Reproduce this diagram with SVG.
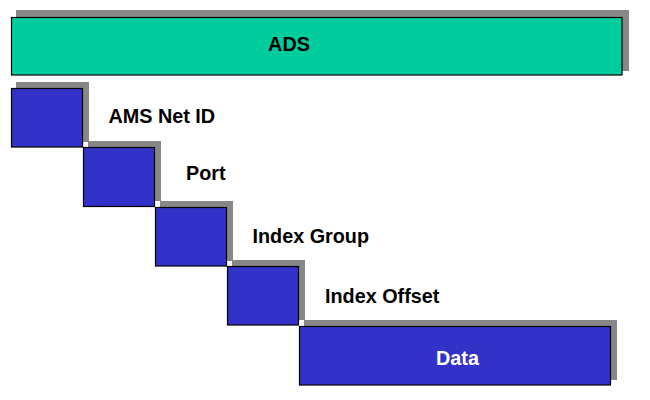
<svg xmlns="http://www.w3.org/2000/svg" width="650" height="400" viewBox="0 0 650 400">
<style>
.sh{fill:#878787}
.ads{fill:#00CC9E;stroke:#000;stroke-width:1.2}
.blk{fill:#3232C8;stroke:#000;stroke-width:1.2}
.lbl{font-family:"Liberation Sans",Arial,sans-serif;font-weight:bold;font-size:19.8px;fill:#000}
.wl{font-family:"Liberation Sans",Arial,sans-serif;font-weight:bold;font-size:19.8px;fill:#fff}
</style>
<rect width="650" height="400" fill="#fff"/>
<g id="ads">
<rect class="sh" x="16" y="10" width="613" height="61"/>
<rect class="ads" x="11.5" y="17.5" width="610.5" height="57.5"/>
<text class="lbl" x="289" y="50.5" text-anchor="middle">ADS</text>
</g>
<g id="ams">
<rect class="sh" x="16" y="82" width="73" height="60"/>
<rect class="blk" x="11.5" y="88.5" width="71" height="58.5"/>
<text class="lbl" x="108.5" y="123.3">AMS Net ID</text>
</g>
<g id="port">
<rect class="sh" x="88" y="141" width="73" height="60"/>
<rect class="blk" x="83.5" y="147.5" width="71" height="59"/>
<text class="lbl" x="186" y="180">Port</text>
</g>
<g id="indexgroup">
<rect class="sh" x="160" y="201" width="73" height="60"/>
<rect class="blk" x="155.5" y="207.5" width="71" height="58.5"/>
<text class="lbl" x="252.5" y="243">Index Group</text>
</g>
<g id="indexoffset">
<rect class="sh" x="232" y="260" width="73" height="60"/>
<rect class="blk" x="227.5" y="266.5" width="71" height="58.5"/>
<text class="lbl" x="325" y="303">Index Offset</text>
</g>
<g id="data">
<rect class="sh" x="304" y="320" width="313" height="60"/>
<rect class="blk" x="299.5" y="326.5" width="311" height="58.5"/>
<text class="wl" x="457.5" y="365.3" text-anchor="middle">Data</text>
</g>
<g id="connectors"/>
</svg>
